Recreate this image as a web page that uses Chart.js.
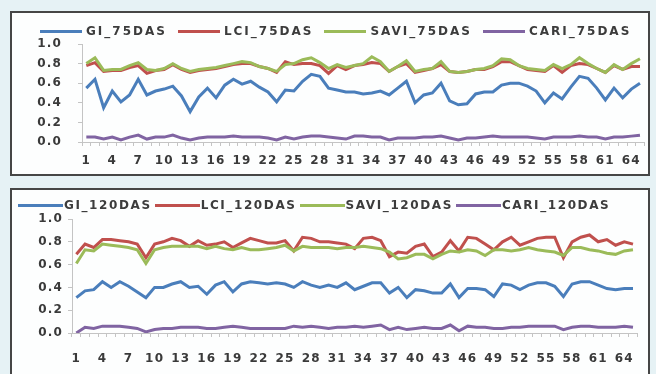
<!DOCTYPE html>
<html>
<head>
<meta charset="utf-8">
<script src="https://cdn.jsdelivr.net/npm/chart.js@4.4.1/dist/chart.umd.min.js"></script>
<style>
  html, body { margin: 0; padding: 0; }
  body {
    width: 656px; height: 374px; position: relative; overflow: hidden;
    background: #e6f2f5; font-family: 'DejaVu Sans', sans-serif;
  }
  .panel {
    position: absolute; left: 10px; width: 640px; box-sizing: border-box;
    border: 2px solid #464646; background: #fdfefe;
  }
  #p75 { top: 11px; height: 165px; }
  #p120 { top: 188px; height: 190px; }
  .panel canvas { position: absolute; left: 0; top: 0; }
  .legend {
    position: absolute; display: flex; align-items: center; height: 14px;
    font-weight: bold; font-size: 12px; line-height: 14px; letter-spacing: 2px;
    color: #3c3c3c; white-space: nowrap;
  }
  #lg120 { letter-spacing: 1.6px; }
  .legend .item { display: flex; align-items: center; }
  .legend .swatch { display: inline-block; height: 3px; }
</style>
</head>
<body>
<div class="panel" id="p75">
  <canvas id="c75" width="636" height="161"></canvas>
  <div class="legend" id="lg75" style="left:28px; top:11px;"></div>
</div>
<div class="panel" id="p120">
  <canvas id="c120" width="636" height="184"></canvas>
  <div class="legend" id="lg120" style="left:6px; top:8px;"></div>
</div>
<script>
// Plot numbers (categories on the x axis)
const days = ['1','2','3','4','5','6','7','8','9','10','11','12','13','14','15','16','17','18','19','20',
  '21','22','23','24','25','26','27','28','29','30','31','32','33','34','35','36','37','38','39','40',
  '41','42','43','44','45','46','47','48','49','50','51','52','53','54','55','56','57','58','59','60',
  '61','62','63','64','65'];
// Labels written under the x axis
const shownDays = ['1','4','7','10','13','16','19','22','25','28','31','34','37','40','43','46','49','52','55','58','61','64'];

// Index values, 75 days after sowing
const gi75 = [0.55,0.64,0.35,0.52,0.41,0.48,0.64,0.48,0.52,0.54, 0.57,0.47,0.31,0.46,0.55,0.45,0.58,0.64,0.59,0.62,
  0.56,0.51,0.41,0.53,0.52,0.62,0.69,0.67,0.55,0.53, 0.51,0.51,0.49,0.50,0.52,0.48,0.55,0.62,0.40,0.48,
  0.50,0.60,0.42,0.38,0.39,0.49,0.51,0.51,0.58,0.60, 0.60,0.57,0.52,0.40,0.50,0.44,0.56,0.67,0.65,0.55,
  0.43,0.55,0.45,0.54,0.60];
const lci75 = [0.78,0.81,0.72,0.73,0.73,0.76,0.78,0.70,0.73,0.74, 0.79,0.74,0.71,0.73,0.74,0.75,0.77,0.79,0.80,0.80,
  0.77,0.75,0.71,0.82,0.79,0.80,0.80,0.78,0.70,0.78, 0.74,0.78,0.79,0.81,0.80,0.72,0.77,0.80,0.71,0.73,
  0.75,0.79,0.72,0.71,0.72,0.74,0.74,0.77,0.82,0.82, 0.78,0.74,0.73,0.72,0.78,0.71,0.78,0.80,0.79,0.75,
  0.71,0.78,0.74,0.77,0.77];
const savi75 = [0.80,0.86,0.73,0.74,0.74,0.78,0.81,0.74,0.73,0.75, 0.80,0.75,0.72,0.74,0.75,0.76,0.78,0.80,0.82,0.81,
  0.77,0.75,0.72,0.79,0.80,0.84,0.86,0.81,0.75,0.79, 0.76,0.78,0.80,0.87,0.82,0.72,0.77,0.83,0.72,0.74,
  0.75,0.82,0.72,0.71,0.72,0.74,0.75,0.78,0.85,0.84, 0.78,0.75,0.74,0.73,0.79,0.75,0.79,0.86,0.80,0.75,
  0.71,0.79,0.74,0.80,0.85];
const cari75 = [0.05,0.05,0.03,0.05,0.02,0.05,0.07,0.03,0.05,0.05, 0.07,0.04,0.02,0.04,0.05,0.05,0.05,0.06,0.05,0.05,
  0.05,0.04,0.02,0.05,0.03,0.05,0.06,0.06,0.05,0.04, 0.03,0.06,0.06,0.05,0.05,0.02,0.04,0.04,0.04,0.05,
  0.05,0.06,0.04,0.02,0.04,0.04,0.05,0.06,0.05,0.05, 0.05,0.05,0.04,0.03,0.05,0.05,0.05,0.06,0.05,0.05,
  0.03,0.05,0.05,0.06,0.07];

// Index values, 120 days after sowing
const gi120 = [0.31,0.37,0.38,0.45,0.40,0.45,0.41,0.36,0.31,0.40, 0.40,0.43,0.45,0.40,0.41,0.34,0.42,0.45,0.36,0.43,
  0.45,0.44,0.43,0.44,0.43,0.40,0.45,0.42,0.40,0.42, 0.40,0.44,0.38,0.41,0.44,0.44,0.35,0.40,0.31,0.38,
  0.37,0.35,0.35,0.43,0.31,0.39,0.39,0.38,0.32,0.43, 0.42,0.38,0.42,0.44,0.44,0.41,0.32,0.43,0.45,0.45,
  0.42,0.39,0.38,0.39,0.39];
const lci120 = [0.69,0.78,0.75,0.82,0.82,0.81,0.80,0.78,0.66,0.78, 0.80,0.83,0.81,0.76,0.81,0.77,0.78,0.80,0.75,0.79,
  0.83,0.81,0.79,0.79,0.81,0.72,0.84,0.83,0.80,0.80, 0.79,0.78,0.74,0.83,0.84,0.81,0.67,0.71,0.70,0.76,
  0.78,0.67,0.71,0.81,0.72,0.84,0.83,0.78,0.73,0.80, 0.84,0.77,0.80,0.83,0.84,0.84,0.66,0.80,0.84,0.86,
  0.80,0.82,0.77,0.80,0.78];
const savi120 = [0.61,0.73,0.72,0.78,0.77,0.76,0.75,0.73,0.61,0.73, 0.75,0.76,0.76,0.76,0.76,0.74,0.76,0.74,0.73,0.75,
  0.73,0.73,0.74,0.75,0.77,0.72,0.76,0.75,0.75,0.75, 0.74,0.75,0.75,0.76,0.75,0.74,0.71,0.65,0.66,0.69,
  0.69,0.65,0.69,0.72,0.71,0.73,0.72,0.68,0.73,0.73, 0.72,0.73,0.75,0.73,0.72,0.71,0.68,0.75,0.75,0.73,
  0.72,0.70,0.69,0.72,0.73];
const cari120 = [0.00,0.05,0.04,0.06,0.06,0.06,0.05,0.04,0.01,0.03, 0.04,0.04,0.05,0.05,0.05,0.04,0.04,0.05,0.06,0.05,
  0.04,0.04,0.04,0.04,0.04,0.06,0.05,0.06,0.05,0.04, 0.05,0.05,0.06,0.05,0.06,0.07,0.03,0.05,0.03,0.04,
  0.05,0.04,0.04,0.07,0.02,0.06,0.05,0.05,0.04,0.04, 0.05,0.05,0.06,0.06,0.06,0.06,0.03,0.05,0.06,0.06,
  0.05,0.05,0.05,0.06,0.05];

const names75 = ['GI_75DAS', 'LCI_75DAS', 'SAVI_75DAS', 'CARI_75DAS'];
const names120 = ['GI_120DAS', 'LCI_120DAS', 'SAVI_120DAS', 'CARI_120DAS'];
const lineColors = ['#4a7ebb', '#c0504d', '#9bbb59', '#8064a2'];

// wide, bold axis text
const spacedText = {
  id: 'spacedText',
  beforeLayout(chart) { chart.ctx.letterSpacing = '1.2px'; },
  beforeDraw(chart) { chart.ctx.letterSpacing = '1.2px'; }
};

function buildLegend(el, names, lineLen, textGap, itemGap) {
  names.forEach((name, i) => {
    const item = document.createElement('span');
    item.className = 'item';
    if (i < names.length - 1) item.style.marginRight = itemGap + 'px';
    const sw = document.createElement('span');
    sw.className = 'swatch';
    sw.style.width = lineLen + 'px';
    sw.style.background = lineColors[i];
    sw.style.marginRight = textGap + 'px';
    const tx = document.createElement('span');
    tx.textContent = name;
    item.appendChild(sw);
    item.appendChild(tx);
    el.appendChild(item);
  });
}

function buildChart(id, names, series, g) {
  const tickFont = { family: 'DejaVu Sans', size: 12, weight: 'bold' };
  return new Chart(document.getElementById(id), {
    type: 'line',
    data: {
      labels: days,
      datasets: series.map((s, i) => ({
        label: names[i],
        data: s,
        borderColor: lineColors[i],
        backgroundColor: lineColors[i],
        borderWidth: 3,
        pointRadius: 0,
        tension: 0,
        order: series.length - 1 - i
      }))
    },
    options: {
      responsive: false,
      animation: false,
      devicePixelRatio: 1,
      layout: { padding: { top: g.top, right: g.right, left: 0, bottom: 0 } },
      plugins: { legend: { display: false }, tooltip: { enabled: false } },
      scales: {
        x: {
          type: 'category',
          offset: true,
          grid: { display: true, drawOnChartArea: false, drawTicks: true, tickLength: 4, offset: true, color: '#c4c4c4' },
          border: { display: true, color: '#c4c4c4', width: 1 },
          ticks: {
            autoSkip: false, maxRotation: 0, minRotation: 0, padding: g.xPad,
            color: '#3a3a3a', font: tickFont,
            callback: function (v) {
              const lab = this.getLabelForValue(v);
              return shownDays.includes(lab) ? lab : '';
            }
          },
          afterFit: (scale) => { scale.height = g.xHeight; }
        },
        y: {
          min: 0, max: 1,
          grid: { display: true, drawOnChartArea: false, drawTicks: true, tickLength: 4, color: '#c4c4c4' },
          border: { display: true, color: '#c4c4c4', width: 1 },
          ticks: {
            stepSize: 0.2, padding: g.yPad, color: '#3a3a3a', font: tickFont,
            callback: (v) => v.toFixed(1)
          },
          afterFit: (scale) => { scale.width = g.yWidth; }
        }
      }
    },
    plugins: [spacedText]
  });
}

buildLegend(document.getElementById('lg75'), names75, 42, 4, 11);
buildLegend(document.getElementById('lg120'), names120, 45, 1, 3);

buildChart('c75', names75, [gi75, lci75, savi75, cari75],
  { top: 31, right: 3, yWidth: 70, xHeight: 32, yPad: 16, xPad: 8 });
buildChart('c120', names120, [gi120, lci120, savi120, cari120],
  { top: 29, right: 1, yWidth: 60, xHeight: 41, yPad: 5, xPad: 15 });
</script>
</body>
</html>
